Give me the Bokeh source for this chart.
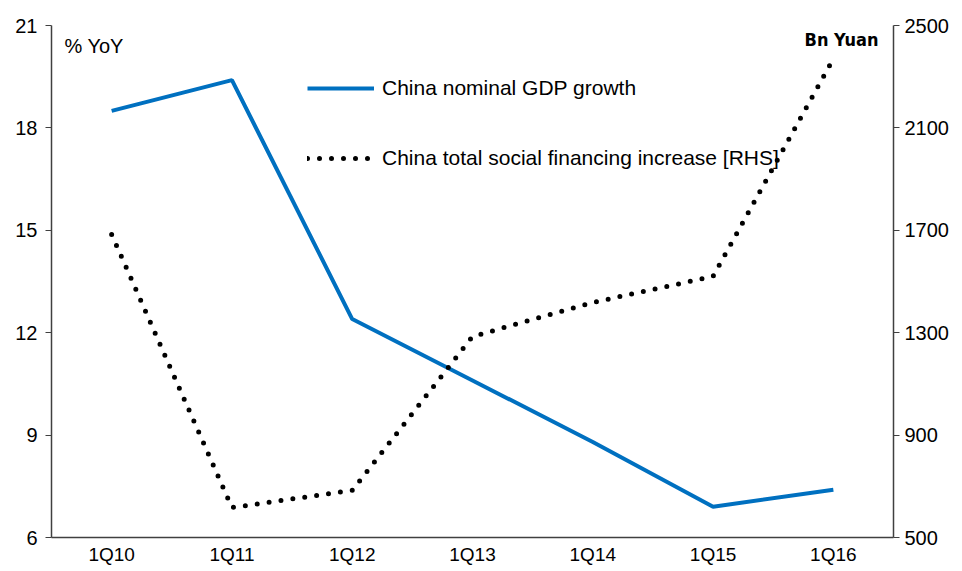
from bokeh.plotting import figure
from bokeh.models import Range1d, LinearAxis, FixedTicker, Legend, LegendItem, Label, FactorRange
from bokeh.embed import file_html
from bokeh.resources import INLINE

quarters = ["1Q10", "1Q11", "1Q12", "1Q13", "1Q14", "1Q15", "1Q16"]
gdp_growth = [18.5, 19.4, 12.4, 10.6, 8.8, 6.9, 7.4]
social_financing = [1684, 617, 684, 1285, 1418, 1520, 2370]
left_ticks = [6, 9, 12, 15, 18, 21]
right_ticks = [500, 900, 1300, 1700, 2100, 2500]

FONT = "Liberation Sans"

p = figure(frame_width=842, frame_height=512, x_range=FactorRange(*quarters, range_padding=0),
           y_range=Range1d(6, 21), output_backend="svg", toolbar_location=None,
           min_border_left=51, min_border_right=55, min_border_top=25, min_border_bottom=26)
p.extra_y_ranges = {"rhs": Range1d(500, 2500)}
p.outline_line_color = None
p.grid.visible = False
p.background_fill_color = "white"
p.border_fill_color = "white"

l1 = p.line(quarters, gdp_growth, line_color="#0070C0", line_width=4)
l2 = p.line(quarters, social_financing, y_range_name="rhs", line_color="black",
            line_width=5, line_dash="0 12", line_cap="round")

def style_y(ax, standoff):
    ax.major_label_text_font = FONT
    ax.major_label_text_font_size = "20px"
    ax.major_label_text_color = "black"
    ax.axis_line_color = "#404040"
    ax.axis_line_width = 1.5
    ax.major_tick_line_color = "#404040"
    ax.major_tick_in = 0
    ax.major_tick_out = 6
    ax.minor_tick_line_color = None
    ax.major_label_standoff = standoff

ax = p.yaxis[0]
ax.ticker = FixedTicker(ticks=left_ticks)
style_y(ax, 8)

rax = LinearAxis(y_range_name="rhs", ticker=FixedTicker(ticks=right_ticks))
style_y(rax, 5)
p.add_layout(rax, "right")

xa = p.xaxis[0]
xa.major_label_text_font = FONT
xa.major_label_text_font_size = "19px"
xa.major_label_text_color = "black"
xa.axis_line_color = "#404040"
xa.axis_line_width = 1.5
xa.major_tick_line_color = None
xa.major_tick_out = 0
xa.major_tick_in = 0
xa.minor_tick_line_color = None
xa.major_label_standoff = 6

legend = Legend(items=[LegendItem(label="China nominal GDP growth", renderers=[l1]),
                       LegendItem(label="China total social financing increase [RHS]", renderers=[l2])],
                location=(256, 367), orientation="vertical", spacing=46,
                glyph_width=67, glyph_height=20, label_standoff=8,
                label_text_font=FONT, label_text_font_size="21px", label_text_color="black",
                background_fill_alpha=0, border_line_color=None, padding=0, margin=0)
p.add_layout(legend)

p.add_layout(Label(x=13, y=492, x_units="screen", y_units="screen", text="% YoY",
                   text_font=FONT, text_font_size="20px", text_color="black",
                   text_baseline="middle"))
p.add_layout(Label(x=827, y=498, x_units="screen", y_units="screen", text="Bn Yuan",
                   text_font="DejaVu Sans Condensed", text_font_size="18px", text_font_style="bold",
                   text_color="black", text_align="right", text_baseline="middle"))

open("out.html", "w").write(file_html(p, INLINE))
